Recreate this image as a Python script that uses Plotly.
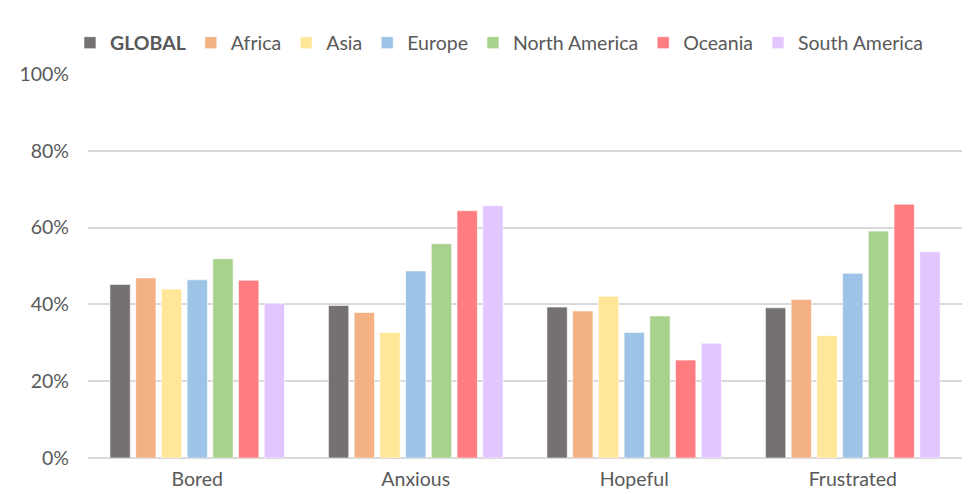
import plotly.graph_objects as go

categories = ["Bored", "Anxious", "Hopeful", "Frustrated"]

series_names = ["GLOBAL", "Africa", "Asia", "Europe", "North America", "Oceania", "South America"]
global_vals = [0.452, 0.397, 0.393, 0.391]
africa_vals = [0.469, 0.379, 0.383, 0.413]
asia_vals = [0.440, 0.327, 0.421, 0.319]
europe_vals = [0.464, 0.487, 0.327, 0.481]
north_america_vals = [0.519, 0.558, 0.370, 0.591]
oceania_vals = [0.463, 0.644, 0.255, 0.661]
south_america_vals = [0.403, 0.657, 0.299, 0.537]

colors = ["#767171", "#F4B183", "#FFE699", "#9DC3E6", "#A9D18E", "#FF7C80", "#E2C6FF"]

values = [global_vals, africa_vals, asia_vals, europe_vals,
          north_america_vals, oceania_vals, south_america_vals]

fig = go.Figure()
for name, vals, col in zip(series_names, values, colors):
    label = "<b>%s</b>" % name if name == "GLOBAL" else name
    fig.add_trace(go.Bar(
        x=categories, y=vals, name=label,
        marker=dict(color=col, line=dict(color="rgba(255,255,255,0.6)", width=1)),
    ))

fig.update_layout(
    width=972, height=494,
    margin=dict(l=88, r=10, t=74, b=36, autoexpand=False),
    paper_bgcolor="white", plot_bgcolor="white",
    barmode="group", bargap=0.176, bargroupgap=0.21,
    font=dict(family="Lato", size=19.5, color="#595959"),
    showlegend=True,
    legend=dict(orientation="h", xref="container", yref="container",
                x=0.072, y=0.913, xanchor="left", yanchor="middle",
                font=dict(size=19.5, color="#595959"),
                itemwidth=30, traceorder="normal"),
    xaxis=dict(showgrid=False, showline=False, ticks="", tickfont=dict(size=19.5),
               ticklabelstandoff=7, automargin=False),
    yaxis=dict(range=[0, 1], tickvals=[0, 0.2, 0.4, 0.6, 0.8, 1.0],
               ticktext=["0%", "20%", "40%", "60%", "80%", "100%"],
               showgrid=True, gridcolor="#D9D9D9", gridwidth=1.5,
               zeroline=True, zerolinecolor="#D9D9D9", zerolinewidth=1.5,
               ticks="", ticklabelstandoff=18, tickfont=dict(size=19.5),
               automargin=False),
)

fig.write_html("out.html")
